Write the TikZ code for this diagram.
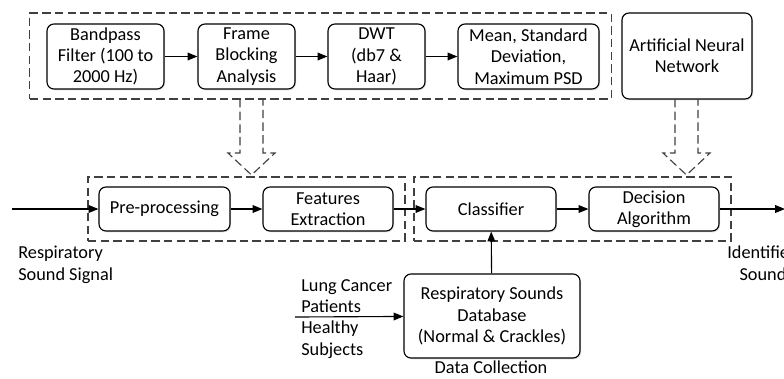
\documentclass[tikz,border=0pt]{standalone}
\usepackage{fontspec}
\setmainfont{Carlito}
\usepackage{tikz}
\usetikzlibrary{arrows.meta,positioning,shadows}

\begin{document}
\begin{tikzpicture}[
  x=0.025cm, y=-0.025cm,
  font=\fontsize{13}{15.2}\selectfont,
  box/.style={rectangle, rounded corners=5pt, draw, line width=0.8pt, fill=white,
              drop shadow={shadow xshift=0.8pt, shadow yshift=-0.9pt, opacity=0.25},
              align=center, inner sep=2pt},
  grp/.style={rectangle, draw=black!75, line width=0.8pt, dash pattern=on 6pt off 3pt,
              inner sep=0pt},
  hol/.style={draw=black!75, line width=0.8pt, dash pattern=on 6pt off 3pt},
  arr/.style={-{Triangle[length=7pt,width=5.5pt]}, line width=0.8pt},
  lbl/.style={inner sep=0pt, align=left}
]
\useasboundingbox (0,0) rectangle (784,378);
% dashed groups
\node[grp, minimum width=14.525cm, minimum height=2.15cm] (grpA) at (320.5,56) {};
\node[grp, minimum width=7.925cm, minimum height=1.6cm] (grpB) at (246.5,209) {};
\node[grp, minimum width=7.925cm, minimum height=1.6cm] (grpC) at (572.5,209) {};
% top row
\node[box, minimum width=2.925cm, minimum height=1.625cm] (bpf)   at (105.5,56.5) {Bandpass\\Filter (100 to\\2000 Hz)};
\node[box, minimum width=2.425cm, minimum height=1.625cm] (frame) at (246.5,56.5) {Frame\\Blocking\\Analysis};
\node[box, minimum width=2.425cm, minimum height=1.625cm] (dwt)   at (376.5,56.5) {DWT\\(db7 \&\\Haar)};
\node[box, minimum width=3.525cm, minimum height=1.625cm] (stat)  at (528.5,56.5) {Mean, Standard\\Deviation,\\Maximum PSD};
\node[box, minimum width=3.25cm, minimum height=2.15cm]   (ann)   at (687,56) {Artificial Neural\\Network};
% main row
\node[box, minimum width=3.275cm, minimum height=1.1cm] (pre)  at (164.5,209) {Pre-processing};
\node[box, minimum width=3.25cm, minimum height=1.1cm]  (feat) at (328,209) {Features\\Extraction};
\node[box, minimum width=3.25cm, minimum height=1.1cm]  (clf)  at (491,209) {Classifier};
\node[box, minimum width=3.25cm, minimum height=1.1cm]  (dec)  at (654,209) {Decision\\Algorithm};
\node[box, minimum width=4.4cm, minimum height=2.1cm]   (db)   at (492,316) {Respiratory Sounds\\Database\\(Normal \& Crackles)};
% labels
\node[lbl, anchor=north west] (sig) at (18,246) {Respiratory\\Sound Signal};
\node[inner sep=0pt, align=center, anchor=north] (ids) at (763,246) {Identified\\Sound};
\node[lbl, anchor=south west] (pat) at (301,313) {Lung Cancer\\Patients};
\node[lbl, anchor=north west] (hea) at (301,321) {Healthy\\Subjects};
\node[inner sep=0pt, anchor=north] (dc) at (491,361) {Data Collection};
\coordinate (in)  at (12,209);
\coordinate (out) at (785,209);
\coordinate (pop) at (295,317);
% connectors
\draw[arr] (bpf) -- (frame);
\draw[arr] (frame) -- (dwt);
\draw[arr] (dwt) -- (stat);
\draw[arr] (in) -- (pre);
\draw[arr] (pre) -- (feat);
\draw[arr] (feat) -- (clf);
\draw[arr] (clf) -- (dec);
\draw[arr] (dec) -- (out);
\draw[arr] (db) -- (clf);
\draw[arr] (pop) -- (db);
% hollow dashed arrows
\draw[hol] (240,99) -- (240,153) -- (228,153) -- (251.5,175) -- (275,153) -- (263,153) -- (263,99);
\draw[hol] (675,99) -- (675,153) -- (663,153) -- (686.5,175) -- (710,153) -- (698,153) -- (698,99);
\end{tikzpicture}
\end{document}
